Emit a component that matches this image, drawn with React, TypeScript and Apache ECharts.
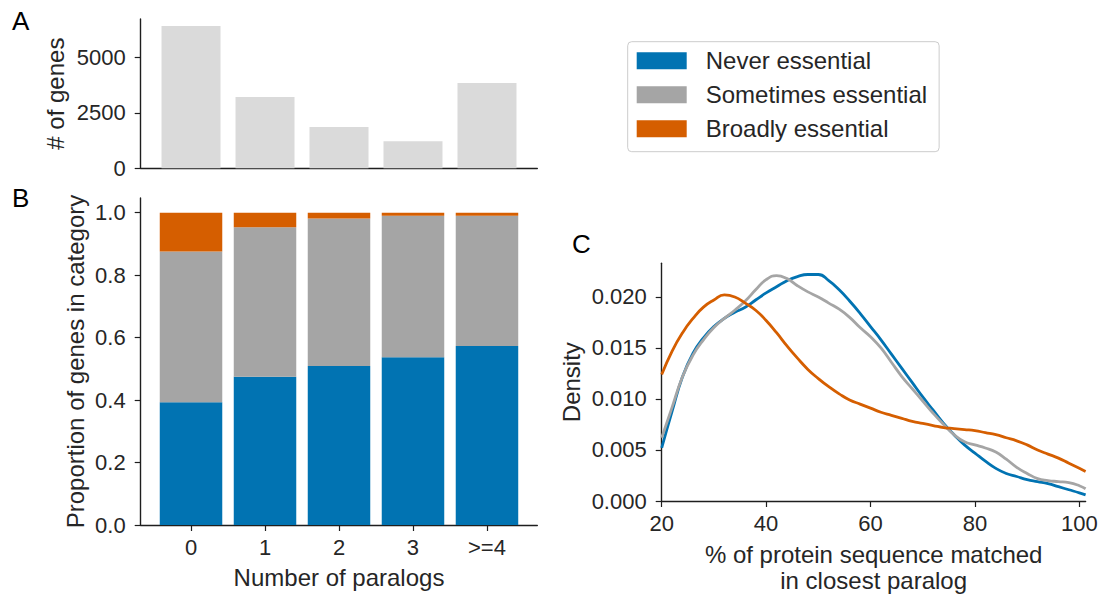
import React, { useEffect, useRef } from "react";
import * as echarts from "echarts";

// ---- data ----
const paralogCategories = ["0", "1", "2", "3", ">=4"];
const geneCounts = [6410, 3210, 1860, 1215, 3840];

const neverProp = [0.393, 0.475, 0.509, 0.537, 0.573];
const sometimesProp = [0.483, 0.478, 0.472, 0.453, 0.417];
const broadlyProp = [0.124, 0.047, 0.019, 0.01, 0.01];

const countTicks = [0, 2500, 5000];
const propTicks = [0, 0.2, 0.4, 0.6, 0.8, 1.0];
const densityTicks = [0, 0.005, 0.01, 0.015, 0.02];
const identityTicks = [20, 40, 60, 80, 100];

const identityX = [
  20, 22, 24, 26, 28, 30, 32, 34, 36, 38, 40, 42, 44, 46, 48, 50, 52, 54, 56, 58,
  60, 62, 64, 66, 68, 70, 72, 74, 76, 78, 80, 82, 84, 86, 88, 90, 92, 94, 96, 98,
  100, 101.2,
];
const densityNever = [
  0.0052, 0.0088, 0.0122, 0.0145, 0.016, 0.0171, 0.0179, 0.0185, 0.019, 0.0197,
  0.0204, 0.021, 0.0216, 0.022, 0.0222, 0.0222, 0.0216, 0.0207, 0.0196, 0.0184,
  0.0171, 0.0158, 0.0144, 0.013, 0.0116, 0.0102, 0.0089, 0.0076, 0.0065, 0.0055,
  0.0047, 0.0039, 0.0032, 0.0027, 0.0024, 0.0021, 0.0019, 0.0017, 0.0014, 0.0011,
  0.0008, 0.0006,
];
const densitySometimes = [
  0.0062, 0.0092, 0.0122, 0.0143, 0.0158, 0.017, 0.0179, 0.0187, 0.0196, 0.0207,
  0.0217, 0.0221, 0.0218, 0.0211, 0.0205, 0.02, 0.0194, 0.0188, 0.018, 0.017,
  0.0161, 0.015, 0.0136, 0.0122, 0.011, 0.0098, 0.0086, 0.0075, 0.0065, 0.0058,
  0.0055, 0.0052, 0.0048, 0.0041, 0.0033, 0.0027, 0.0022, 0.002, 0.0019, 0.0018,
  0.0015, 0.0012,
];
const densityBroadly = [
  0.0124, 0.0147, 0.0165, 0.0179, 0.019, 0.0197, 0.0202, 0.02, 0.0194, 0.0187,
  0.0177, 0.0165, 0.0152, 0.014, 0.0129, 0.012, 0.0112, 0.0105, 0.0099, 0.0095,
  0.0091, 0.0087, 0.0084, 0.0081, 0.0078, 0.0076, 0.0074, 0.0072, 0.0071, 0.007,
  0.0069, 0.0067, 0.0065, 0.0062, 0.0059, 0.0055, 0.005, 0.0046, 0.0042, 0.0037,
  0.0032, 0.0029,
];

const seriesNames = ["Never essential", "Sometimes essential", "Broadly essential"];

const BLUE = "#0173B2";
const GRAY = "#A5A5A5";
const ORANGE = "#D55E00";
const LIGHT = "#DADADA";
const INK = "#262626";
const AXIS = "#1e1e1e";
const FONT = "'Liberation Sans', Arial, Helvetica, sans-serif";

function tick(values?: number[], show = true) {
  const t: any = { show, length: 6, lineStyle: { color: AXIS, width: 1.2 } };
  if (values) t.customValues = values;
  return t;
}

function axisBase() {
  return {
    axisLine: { show: true, onZero: false, lineStyle: { color: AXIS, width: 1.4 } },
    splitLine: { show: false },
    nameTextStyle: { fontSize: 24, color: INK, fontFamily: FONT },
  };
}

export default function App() {
  const ref = useRef<HTMLDivElement>(null);

  useEffect(() => {
    document.body.style.margin = "0";
    if (!ref.current) return;
    const chart = echarts.init(ref.current, undefined, { renderer: "svg" });

    const labelStyle = { fontSize: 22, color: INK, fontFamily: FONT };
    const catIdx = paralogCategories.map((_, i) => i);

    // value first, category index second: the stack applies to the value (y) dimension
    const stackedBar = (name: string, vals: number[], color: string) => ({
      type: "bar",
      name,
      xAxisIndex: 1,
      yAxisIndex: 1,
      stack: "prop",
      barWidth: 62.5,
      encode: { x: 1, y: 0 },
      itemStyle: { color },
      data: vals.map((v, i) => [v, i]),
    });

    const densityLine = (name: string, vals: number[], color: string) => ({
      type: "line",
      name,
      xAxisIndex: 2,
      yAxisIndex: 2,
      showSymbol: false,
      smooth: true,
      itemStyle: { color },
      lineStyle: { color, width: 2.8 },
      data: identityX.map((x, i) => [x, vals[i]]),
    });

    const option: any = {
      animation: false,
      backgroundColor: "#ffffff",
      textStyle: { fontFamily: FONT },
      grid: [
        { left: 140.7, top: 19, width: 396.6, height: 149.3 },
        { left: 140.7, top: 198, width: 396.6, height: 328 },
        { left: 661.7, top: 263.3, width: 423.9, height: 239 },
      ],
      xAxis: [
        {
          ...axisBase(),
          type: "value",
          gridIndex: 0,
          min: -0.68,
          max: 4.68,
          axisTick: { show: false },
          axisLabel: { show: false },
        },
        {
          ...axisBase(),
          type: "value",
          gridIndex: 1,
          min: -0.68,
          max: 4.68,
          name: "Number of paralogs",
          nameLocation: "middle",
          nameGap: 40,
          axisTick: tick(catIdx),
          axisLabel: {
            ...labelStyle,
            margin: 11,
            customValues: catIdx,
            formatter: (v: number) => paralogCategories[Math.round(v)],
          },
        },
        {
          ...axisBase(),
          type: "value",
          gridIndex: 2,
          min: 20,
          max: 101.2,
          name: "% of protein sequence matched\nin closest paralog",
          nameLocation: "middle",
          nameGap: 40,
          nameTextStyle: { fontSize: 24, color: INK, fontFamily: FONT, lineHeight: 26 },
          axisTick: tick(identityTicks),
          axisLabel: {
            ...labelStyle,
            margin: 11,
            customValues: identityTicks,
            formatter: (v: number) => String(v),
          },
        },
      ],
      yAxis: [
        {
          ...axisBase(),
          type: "value",
          gridIndex: 0,
          min: 0,
          max: 6725,
          name: "# of genes",
          nameLocation: "middle",
          nameRotate: 90,
          nameGap: 73,
          axisTick: tick(countTicks),
          axisLabel: {
            ...labelStyle,
            margin: 15,
            customValues: countTicks,
            formatter: (v: number) => String(v),
          },
        },
        {
          ...axisBase(),
          type: "value",
          gridIndex: 1,
          min: 0,
          max: 1.047,
          name: "Proportion of genes in category",
          nameLocation: "middle",
          nameRotate: 90,
          nameGap: 53,
          axisTick: tick(propTicks),
          axisLabel: {
            ...labelStyle,
            margin: 15,
            customValues: propTicks,
            formatter: (v: number) => v.toFixed(1),
          },
        },
        {
          ...axisBase(),
          type: "value",
          gridIndex: 2,
          min: 0,
          max: 0.0233,
          name: "Density",
          nameLocation: "middle",
          nameRotate: 90,
          nameGap: 78,
          axisTick: tick(densityTicks),
          axisLabel: {
            ...labelStyle,
            margin: 15,
            customValues: densityTicks,
            formatter: (v: number) => v.toFixed(3),
          },
        },
      ],
      legend: {
        show: true,
        data: seriesNames,
        orient: "vertical",
        left: 627.7,
        top: 41.7,
        icon: "rect",
        itemWidth: 50,
        itemHeight: 17,
        itemGap: 10,
        selectedMode: false,
        padding: [7, 12, 11, 9],
        borderColor: "#cccccc",
        borderWidth: 1,
        borderRadius: 4,
        backgroundColor: "#ffffff",
        textStyle: { fontSize: 24, color: INK, fontFamily: FONT, padding: [0, 0, 0, 14] },
      },
      series: [
        {
          type: "bar",
          name: "# of genes",
          xAxisIndex: 0,
          yAxisIndex: 0,
          barWidth: 59,
          itemStyle: { color: LIGHT },
          data: geneCounts.map((v, i) => [i, v]),
        },
        stackedBar(seriesNames[0], neverProp, BLUE),
        stackedBar(seriesNames[1], sometimesProp, GRAY),
        stackedBar(seriesNames[2], broadlyProp, ORANGE),
        densityLine(seriesNames[0], densityNever, BLUE),
        densityLine(seriesNames[1], densitySometimes, GRAY),
        densityLine(seriesNames[2], densityBroadly, ORANGE),
      ],
      graphic: [
        { type: "text", left: 12, top: 8, style: { text: "A", fontSize: 26, fill: "#000", fontFamily: FONT } },
        { type: "text", left: 12, top: 185, style: { text: "B", fontSize: 26, fill: "#000", fontFamily: FONT } },
        { type: "text", left: 572, top: 231, style: { text: "C", fontSize: 26, fill: "#000", fontFamily: FONT } },
      ],
    };

    chart.setOption(option);
    return () => chart.dispose();
  }, []);

  return <div ref={ref} style={{ width: 1116, height: 594 }} />;
}
